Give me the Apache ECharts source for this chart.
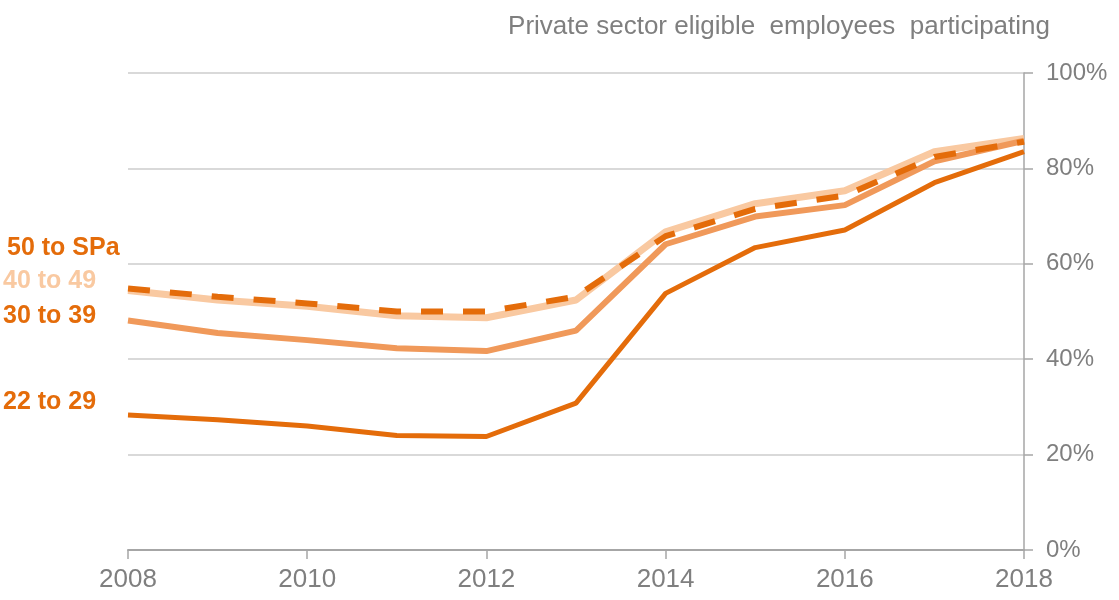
<!DOCTYPE html>
<html>
<head>
<meta charset="utf-8">
<script src="https://cdn.jsdelivr.net/npm/echarts@6/dist/echarts.min.js"></script>
<style>
  html, body { margin: 0; padding: 0; background: #fff; }
  #chart { width: 1119px; height: 600px; }
</style>
</head>
<body>
<div id="chart"></div>
<script>
// years on the x axis
const years = ['2008', '2009', '2010', '2011', '2012', '2013', '2014', '2015', '2016', '2017', '2018'];
// participation rate, % of eligible private sector employees
const age22to29 = [28.3, 27.3, 26.0, 24.0, 23.8, 30.8, 53.8, 63.4, 67.1, 77.0, 83.5];
const age30to39 = [48.1, 45.5, 44.0, 42.3, 41.7, 46.0, 64.1, 69.9, 72.3, 81.5, 85.8];
const age40to49 = [54.4, 52.4, 51.1, 49.1, 48.7, 52.4, 66.7, 72.6, 75.3, 83.5, 86.3];
const age50toSPa = [54.8, 53.1, 51.7, 50.0, 50.0, 53.1, 65.8, 71.5, 74.3, 82.4, 85.6];
const yTicks = [0, 20, 40, 60, 80, 100];

const darkOrange = '#e46c0a';
const midOrange = '#f0995a';
const lightOrange = '#f9c9a1';
const grey = '#7f7f7f';

const chart = echarts.init(document.getElementById('chart'));
const option = {
  animation: false,
  title: {
    text: 'Private sector eligible  employees  participating',
    right: 64,
    top: 9,
    textStyle: { color: grey, fontSize: 26, fontWeight: 'normal', fontFamily: 'Liberation Sans' }
  },
  grid: { left: 128, right: 95, top: 73, bottom: 50 },
  xAxis: {
    type: 'category',
    data: years,
    boundaryGap: false,
    axisLine: { lineStyle: { color: '#a6a6a6', width: 2 } },
    axisTick: { interval: 1, length: 9, lineStyle: { color: '#a6a6a6', width: 1.5 } },
    axisLabel: { interval: 1, color: grey, fontSize: 26, margin: 17, fontFamily: 'Liberation Sans' }
  },
  yAxis: {
    type: 'value',
    position: 'right',
    min: 0,
    max: 100,
    interval: 20,
    axisLine: { show: true, lineStyle: { color: '#a6a6a6', width: 1.5 } },
    axisTick: { show: true, length: 9, lineStyle: { color: '#a6a6a6', width: 1.5 } },
    axisLabel: {
      color: grey, fontSize: 24, margin: 22, fontFamily: 'Liberation Sans',
      formatter: function (v) { return yTicks.indexOf(v) >= 0 ? v + '%' : ''; }
    },
    splitLine: { lineStyle: { color: '#d9d9d9', width: 2 } }
  },
  series: [
    {
      name: '40 to 49',
      type: 'line',
      data: age40to49,
      symbol: 'none',
      lineStyle: { color: lightOrange, width: 7 },
      z: 2
    },
    {
      name: '50 to SPa',
      type: 'line',
      data: age50toSPa,
      symbol: 'none',
      lineStyle: { color: darkOrange, width: 6, type: [22, 20] },
      z: 3
    },
    {
      name: '30 to 39',
      type: 'line',
      data: age30to39,
      symbol: 'none',
      lineStyle: { color: midOrange, width: 6 },
      z: 2
    },
    {
      name: '22 to 29',
      type: 'line',
      data: age22to29,
      symbol: 'none',
      lineStyle: { color: darkOrange, width: 5 },
      z: 2
    }
  ],
  graphic: [
    { type: 'text', left: 7, top: 236, style: { text: '50 to SPa', fill: darkOrange, font: 'bold 25px "Liberation Sans"' } },
    { type: 'text', left: 3, top: 269, style: { text: '40 to 49', fill: lightOrange, font: 'bold 25px "Liberation Sans"' } },
    { type: 'text', left: 3, top: 304, style: { text: '30 to 39', fill: darkOrange, font: 'bold 25px "Liberation Sans"' } },
    { type: 'text', left: 3, top: 390, style: { text: '22 to 29', fill: darkOrange, font: 'bold 25px "Liberation Sans"' } }
  ]
};
chart.setOption(option);
</script>
</body>
</html>
